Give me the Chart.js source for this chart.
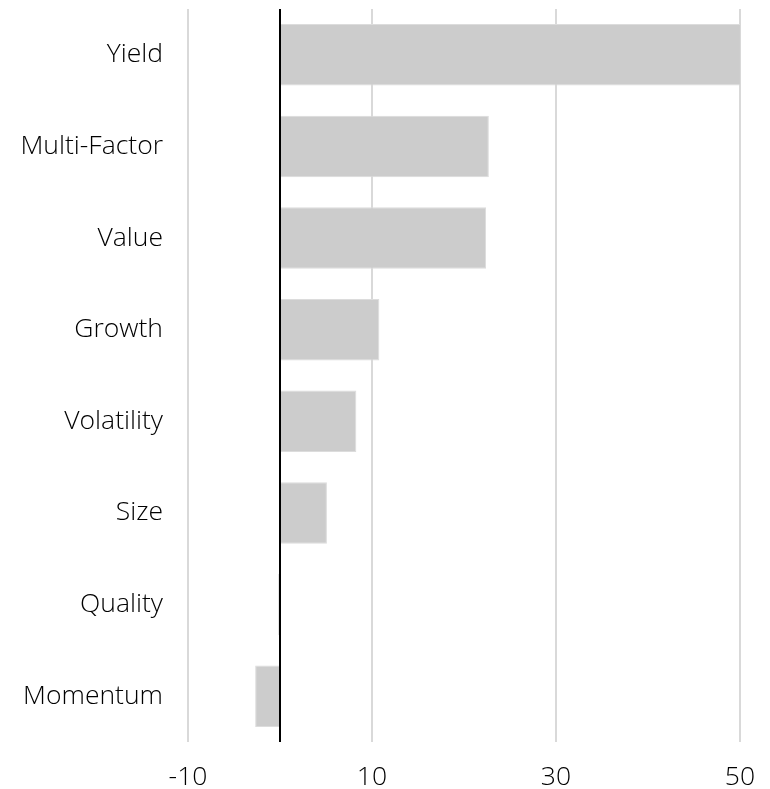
<!DOCTYPE html>
<html>
<head>
<meta charset="utf-8">
<script src="https://cdn.jsdelivr.net/npm/chart.js@4"></script>
<style>
  html, body { margin: 0; padding: 0; background: #fff; overflow: hidden; }
</style>
</head>
<body>
<canvas id="myChart" width="770" height="789"></canvas>
<script>
const factors = ['Yield', 'Multi-Factor', 'Value', 'Growth', 'Volatility', 'Size', 'Quality', 'Momentum'];
const values = [50.1, 22.7, 22.4, 10.8, 8.3, 5.1, -0.2, -2.7];
const xTicks = [-10, 10, 30, 50];

// black line at zero
const zeroLine = {
  id: 'zeroLine',
  afterDatasetsDraw(chart) {
    const x = chart.scales.x.getPixelForValue(0);
    const area = chart.chartArea;
    const c = chart.ctx;
    c.save();
    c.strokeStyle = '#000';
    c.lineWidth = 2;
    c.beginPath();
    c.moveTo(x, area.top);
    c.lineTo(x, area.bottom);
    c.stroke();
    c.restore();
  }
};

const ctx = document.getElementById('myChart');

let myChart = new Chart(ctx, {
  type: 'bar',
  data: {
    labels: factors,
    datasets: [{
      data: values,
      backgroundColor: '#cccccc',
      borderColor: '#dcdcdc',
      borderWidth: 1,
      barPercentage: 0.67,
      categoryPercentage: 1
    }]
  },
  options: {
    indexAxis: 'y',
    responsive: false,
    animation: false,
    layout: { padding: { top: 9, right: 30, left: 0, bottom: 0 } },
    plugins: {
      legend: { display: false },
      tooltip: { enabled: false }
    },
    scales: {
      x: {
        min: -10,
        max: 50,
        afterBuildTicks: (scale) => {
          scale.ticks = xTicks.map(v => ({ value: v }));
        },
        afterFit: (scale) => {
          scale.height = 47;
          scale.paddingLeft = 0;
          scale.paddingRight = 0;
        },
        ticks: {
          color: '#000',
          padding: 20,
          font: { family: 'Open Sans', size: 26.5, weight: 300 }
        },
        grid: {
          color: '#d9d9d9',
          lineWidth: 2,
          drawTicks: false
        },
        border: { display: false }
      },
      y: {
        afterFit: (scale) => {
          scale.width = 188;
          scale.paddingTop = 0;
          scale.paddingBottom = 0;
        },
        ticks: {
          color: '#000',
          padding: 25,
          font: { family: 'Open Sans', size: 26.5, weight: 300 }
        },
        grid: { display: false, drawTicks: false },
        border: { display: false }
      }
    }
  },
  plugins: [zeroLine]
});
</script>
</body>
</html>
